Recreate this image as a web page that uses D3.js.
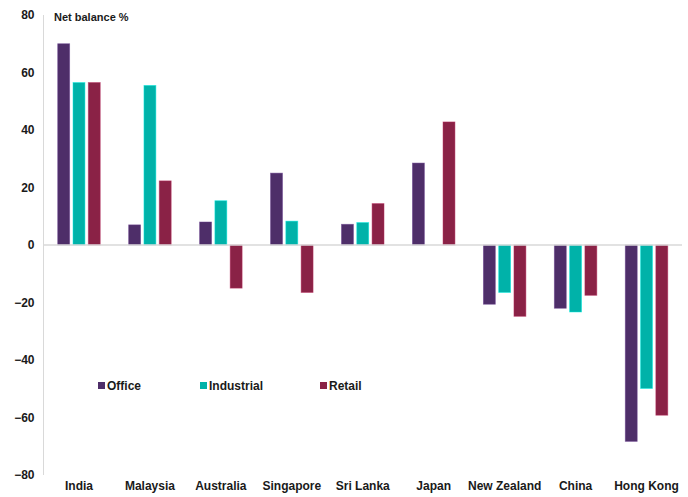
<!DOCTYPE html>
<html>
<head>
<meta charset="utf-8">
<script src="https://cdn.jsdelivr.net/npm/d3@7"></script>
<style>
  html, body { margin: 0; padding: 0; background: #fff; }
  svg text { font-family: "Liberation Sans", Arial, sans-serif; font-weight: bold; fill: #1a1a1a; }
</style>
</head>
<body>
<svg id="chart" width="688" height="497"></svg>
<script>
const categories = ["India", "Malaysia", "Australia", "Singapore", "Sri Lanka", "Japan", "New Zealand", "China", "Hong Kong"];
const seriesNames = ["Office", "Industrial", "Retail"];
const office =     [70, 7, 8, 25, 7.2, 28.5, -20.6, -22, -68.3];
const industrial = [56.5, 55.5, 15.4, 8.3, 7.8, null, -16.5, -23.3, -49.9];
const retail =     [56.5, 22.3, -15, -16.5, 14.4, 42.8, -24.8, -17.5, -59.2];
const yTicks = [80, 60, 40, 20, 0, -20, -40, -60, -80];
const colors = ["#4e2e69", "#00b2a9", "#8a2246"];

const seriesValues = [office, industrial, retail];

const svg = d3.select("#chart");
const margin = { left: 43.5, right: 6, top: 15, bottom: 22 };
const W = 688, H = 497;

const x = d3.scaleBand().domain(categories).range([margin.left, W - margin.right]).paddingInner(0).paddingOuter(0);
const y = d3.scaleLinear().domain([-80, 80]).range([H - margin.bottom, margin.top]);
const xs = d3.scaleBand().domain(seriesNames).range([0, x.bandwidth()]).paddingInner(0.22).paddingOuter(0.93);

// vertical axis line
svg.append("line")
  .attr("x1", margin.left).attr("x2", margin.left)
  .attr("y1", y(80)).attr("y2", y(-80))
  .attr("stroke", "#d9d9d9").attr("stroke-width", 1);

// y tick labels
const yAxis = d3.axisLeft(y).tickValues(yTicks).tickSize(0).tickPadding(9);
const yg = svg.append("g").attr("transform", `translate(${margin.left},0)`).call(yAxis);
yg.select(".domain").remove();
yg.selectAll("text").style("font-size", "12px").style("font-family", "'Liberation Sans', Arial, sans-serif").style("font-weight", "bold").attr("fill", "#1a1a1a");

// bars
seriesNames.forEach((name, si) => {
  const vals = seriesValues[si];
  svg.append("g").selectAll("rect")
    .data(categories.map((c, i) => ({ c, v: vals[i] })).filter(d => d.v !== null))
    .join("rect")
    .attr("x", d => x(d.c) + xs(name))
    .attr("width", xs.bandwidth())
    .attr("y", d => y(Math.max(0, d.v)))
    .attr("height", d => Math.abs(y(d.v) - y(0)))
    .attr("fill", colors[si])
    .attr("stroke", d3.color(colors[si]).brighter(0.8))
    .attr("stroke-opacity", 0.6)
    .attr("stroke-width", 0.8);
});

// zero line
svg.append("line")
  .attr("x1", margin.left).attr("x2", W - margin.right)
  .attr("y1", y(0)).attr("y2", y(0))
  .attr("stroke", "#d9d9d9").attr("stroke-width", 1.6);

// category labels
const xAxis = d3.axisBottom(x).tickSize(0).tickPadding(0);
const xg = svg.append("g").attr("transform", `translate(0,${H - 16})`).call(xAxis);
xg.select(".domain").remove();
xg.selectAll("text").style("font-size", "12px").style("font-family", "'Liberation Sans', Arial, sans-serif").style("font-weight", "bold").attr("fill", "#1a1a1a").attr("dy", "0.71em");

// axis title
svg.append("text").attr("x", 54).attr("y", 21).style("font-size", "11px").text("Net balance %");

// legend
const legendX = [98, 200, 320];
const legend = svg.append("g");
seriesNames.forEach((name, i) => {
  legend.append("rect").attr("x", legendX[i]).attr("y", 382).attr("width", 7).attr("height", 7).attr("fill", colors[i]);
  legend.append("text").attr("x", legendX[i] + 9).attr("y", 390).style("font-size", "12px").text(name);
});
</script>
</body>
</html>
